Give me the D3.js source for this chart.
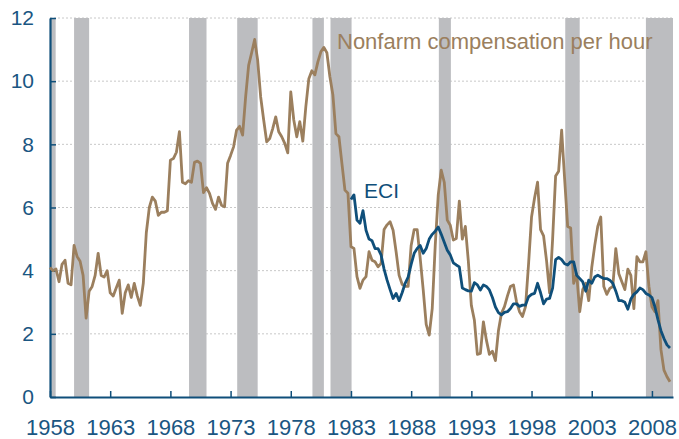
<!DOCTYPE html>
<html>
<head>
<meta charset="utf-8">
<script src="https://cdn.jsdelivr.net/npm/d3@7"></script>
<style>
  body { margin: 0; background: #fff; }
  svg text { font-family: "Liberation Sans", Arial, sans-serif; }
</style>
</head>
<body>
<svg id="chart" width="679" height="439"></svg>
<script>
// ==========================
// DATA (quarterly, % change from a year earlier)
// ==========================
const startYear = 1958;          // nonfarm series starts 1958Q1
const eciStartYear = 1983;       // ECI starts 1983Q1

const nonfarm = [
  4.1, 4.0, 4.05, 3.65,   // 1958
  4.2, 4.33, 3.6, 3.55,   // 1959
  4.8, 4.45, 4.3, 3.85,   // 1960
  2.5, 3.35, 3.5, 3.85,   // 1961
  4.55, 3.85, 3.8, 4.0,   // 1962
  3.3, 3.2, 3.45, 3.7,    // 1963
  2.65, 3.3, 3.55, 3.15,  // 1964
  3.6, 3.2, 2.9, 3.6,     // 1965
  5.2, 6.0, 6.33, 6.2,    // 1966
  5.75, 5.85, 5.85, 5.9,  // 1967
  7.5, 7.55, 7.75, 8.4,   // 1968
  6.8, 6.75, 6.85, 6.8,   // 1969
  7.43, 7.47, 7.4, 6.47,  // 1970
  6.63, 6.45, 6.13, 5.94, // 1971
  6.33, 6.07, 6.02, 7.4,  // 1972
  7.65, 7.92, 8.45, 8.57, // 1973
  8.29, 9.5, 10.5, 10.9,  // 1974
  11.32, 10.66, 9.5, 8.77,// 1975
  8.08, 8.18, 8.5, 8.87,  // 1976
  8.4, 8.24, 8.03, 7.73,  // 1977
  9.66, 8.77, 8.24, 8.72, // 1978
  8.1, 9.19, 10.08, 10.33,// 1979
  10.2, 10.61, 10.93, 11.07, // 1980
  10.9, 10.14, 9.56, 8.34,// 1981
  8.24, 7.39, 6.55, 6.45, // 1982
  4.76, 4.7, 3.81, 3.44,  // 1983
  3.7, 3.81, 4.6, 4.33,   // 1984
  4.28, 4.12, 4.23, 5.3,  // 1985
  5.45, 5.55, 5.28, 4.6,  // 1986
  3.85, 3.57, 3.5, 3.5,   // 1987
  4.8, 5.3, 5.3, 4.4,     // 1988
  3.4, 2.3, 1.96, 2.8,    // 1989
  4.8, 6.4, 7.18, 6.8,    // 1990
  5.6, 5.44, 4.97, 5.02,  // 1991
  6.2, 5.0, 5.4, 4.3,     // 1992
  2.9, 2.44, 1.35, 1.38,  // 1993
  2.38, 1.8, 1.35, 1.45,  // 1994
  1.15, 2.1, 2.65, 2.86,  // 1995
  3.2, 3.5, 3.55, 3.02,   // 1996
  2.7, 2.55, 2.86, 4.2,   // 1997
  5.7, 6.3, 6.8, 5.3,     // 1998
  5.1, 4.3, 3.3, 5.0,     // 1999
  7.0, 7.15, 8.45, 6.9,   // 2000
  5.4, 5.35, 3.6, 3.9,    // 2001
  2.7, 3.4, 3.6, 3.05,    // 2002
  4.1, 4.8, 5.4, 5.7,     // 2003
  3.5, 3.25, 3.44, 3.5,   // 2004
  4.7, 3.9, 3.65, 3.4,    // 2005
  4.05, 3.85, 2.8, 4.44,  // 2006
  4.28, 4.28, 4.6, 3.5,   // 2007
  2.86, 2.7, 3.05, 1.5,   // 2008
  0.85, 0.64, 0.48        // 2009
];

const eci = [
  6.25, 6.4, 5.6, 5.5,    // 1983
  5.9, 5.28, 5.0, 4.95,   // 1984
  4.7, 4.7, 4.5, 4.05,    // 1985
  3.7, 3.4, 3.12, 3.28,   // 1986
  3.05, 3.3, 3.6, 3.8,    // 1987
  4.2, 4.55, 4.7, 4.8,    // 1988
  4.55, 4.7, 5.0, 5.15,   // 1989
  5.25, 5.38, 5.15, 4.9,  // 1990
  4.65, 4.5, 4.25, 4.18,  // 1991
  4.12, 3.45, 3.4, 3.36,  // 1992
  3.35, 3.62, 3.55, 3.39, // 1993
  3.55, 3.5, 3.39, 3.15,  // 1994
  2.85, 2.67, 2.6, 2.68,  // 1995
  2.7, 2.8, 2.95, 2.95,   // 1996
  2.87, 2.91, 2.91, 3.17, // 1997
  3.25, 3.28, 3.6, 3.3,   // 1998
  2.95, 3.1, 3.12, 3.45,  // 1999
  4.35, 4.42, 4.35, 4.22, // 2000
  4.18, 4.28, 4.28, 3.85, // 2001
  3.75, 3.65, 3.35, 3.7,  // 2002
  3.6, 3.8, 3.86, 3.8,    // 2003
  3.75, 3.75, 3.7, 3.6,   // 2004
  3.35, 3.05, 3.05, 3.0,  // 2005
  2.78, 3.1, 3.25, 3.33,  // 2006
  3.45, 3.4, 3.28, 3.23,  // 2007
  3.15, 2.85, 2.45, 2.1,  // 2008
  1.85, 1.65, 1.55        // 2009
];

// recessions, [start, end] in decimal years
const recessions = [
  [1957.5, 1958.47], [1960.0, 1961.25], [1969.55, 1971.0], [1973.55, 1975.25],
  [1979.8, 1980.75], [1981.3, 1983.05], [1990.3, 1991.3], [2000.8, 2002.0],
  [2007.5, 2009.75]
];

const xTicks = [1958, 1963, 1968, 1973, 1978, 1983, 1988, 1993, 1998, 2003, 2008];
const yTicks = [0, 2, 4, 6, 8, 10, 12];

// ==========================
// SETUP
// ==========================
const svg = d3.select("#chart");
const blue = "#0f4f7a";
const tan = "#9b7f5e";

const x = d3.scaleLinear().domain([1958, 2009.75]).range([50, 673]);
const y = d3.scaleLinear().domain([0, 12]).range([397, 18]);

// dotted gridlines
svg.append("g")
  .selectAll("line")
  .data(yTicks.filter(d => d > 0))
  .enter()
  .append("line")
  .attr("x1", x.range()[0])
  .attr("x2", x.range()[1])
  .attr("y1", d => y(d))
  .attr("y2", d => y(d))
  .attr("stroke", "#c8c8c8")
  .attr("stroke-width", 1)
  .attr("stroke-dasharray", "2,2");

// recession bands
svg.append("g")
  .selectAll("rect")
  .data(recessions)
  .enter()
  .append("rect")
  .attr("x", d => x(Math.max(d[0], 1958)))
  .attr("width", d => x(Math.min(d[1], 2009.75)) - x(Math.max(d[0], 1958)))
  .attr("y", y(12))
  .attr("height", y(0) - y(12))
  .attr("fill", "#bcbdc0");

// axes
const xAxis = svg.append("g")
  .attr("transform", `translate(0,${y(0)})`)
  .call(d3.axisBottom(x).tickValues(xTicks).tickFormat(d3.format("d"))
    .tickSizeInner(-6).tickSizeOuter(0).tickPadding(22));

const yAxis = svg.append("g")
  .attr("transform", `translate(${x(1958)},0)`)
  .call(d3.axisLeft(y).tickValues(yTicks)
    .tickSizeInner(-6).tickSizeOuter(0).tickPadding(16));

[xAxis, yAxis].forEach(g => {
  g.select(".domain").attr("stroke", blue).attr("stroke-width", 2.2);
  g.selectAll(".tick line").attr("stroke", blue).attr("stroke-width", 1.5);
  g.selectAll(".tick text")
    .attr("fill", "#1a5682")
    .style("font-family", "'Liberation Sans', Arial, sans-serif");
});
xAxis.selectAll(".tick text").style("font-size", "22px");
yAxis.selectAll(".tick text").style("font-size", "21px");

// lines
const line = d3.line()
  .x(d => x(d.t))
  .y(d => y(d.v));

const nonfarmPts = nonfarm.map((v, i) => ({ t: startYear + i / 4, v }));
const eciPts = eci.map((v, i) => ({ t: eciStartYear + i / 4, v }));

svg.append("path")
  .datum(nonfarmPts)
  .attr("d", line)
  .attr("fill", "none")
  .attr("stroke", tan)
  .attr("stroke-width", 2.8)
  .attr("stroke-linejoin", "round");

svg.append("path")
  .datum(eciPts)
  .attr("d", line)
  .attr("fill", "none")
  .attr("stroke", blue)
  .attr("stroke-width", 2.8)
  .attr("stroke-linejoin", "round");

// series labels
svg.append("text")
  .attr("x", 337)
  .attr("y", 49)
  .attr("fill", tan)
  .style("font-size", "22px")
  .text("Nonfarm compensation per hour");

svg.append("text")
  .attr("x", 364)
  .attr("y", 198)
  .attr("fill", blue)
  .style("font-size", "21px")
  .text("ECI");
</script>
</body>
</html>
